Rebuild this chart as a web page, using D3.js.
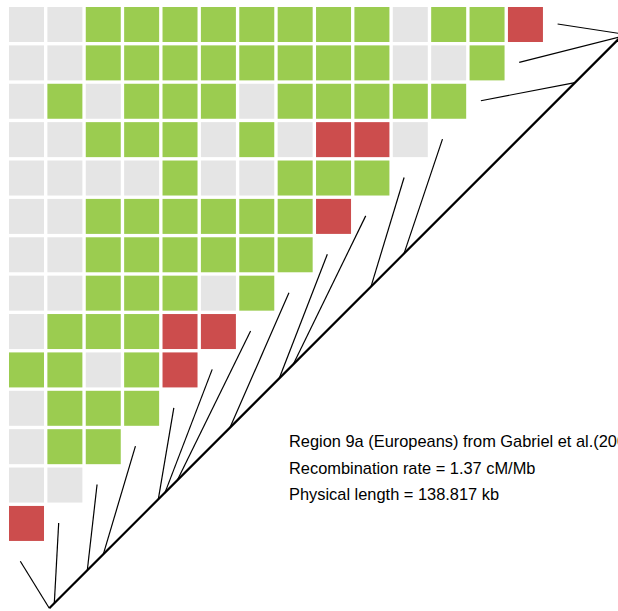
<!DOCTYPE html>
<html>
<head>
<meta charset="utf-8">
<script src="https://cdn.jsdelivr.net/npm/d3@7"></script>
<style>
  html, body { margin: 0; padding: 0; background: #fff; overflow: hidden; }
  svg { display: block; }
</style>
</head>
<body>
<script>
// ---- Data ----
// LD matrix rows: 0 = low (grey), 1 = moderate (green), 2 = high (red)
const ldRows = [
  [0,0,1,1,1,1,1,1,1,1,0,1,1,2],
  [0,0,1,1,1,1,1,1,1,1,0,0,1],
  [0,1,0,1,1,1,0,1,1,1,1,1],
  [0,0,1,1,1,0,1,0,2,2,0],
  [0,0,0,0,1,0,0,1,1,1],
  [0,0,1,1,1,1,1,1,2],
  [0,0,1,1,1,1,1,1],
  [0,0,1,1,1,0,1],
  [0,1,1,1,2,2],
  [1,1,0,1,2],
  [0,1,1,1],
  [0,1,1],
  [0,0],
  [2]
];
const ldLevels = [0, 1, 2];
const ldColors = ["#e5e5e5", "#9bcc50", "#cc4d4d"];

// physical positions of the 15 markers (kb)
const markerPositions = [0, 1.21, 9.19, 13.05, 26.35, 27.97, 30.95, 43.69, 55.6, 58.99, 77.77, 85.75, 127.09, 138.21, 138.817];
const physicalLength = 138.817;

const infoLines = [
  "Region 9a (Europeans) from Gabriel et al.(2002)",
  "Recombination rate = 1.37 cM/Mb",
  "Physical length = 138.817 kb"
];

// ---- Drawing ----
const W = 618, H = 611;
const svg = d3.select("body").append("svg").attr("width", W).attr("height", H);

const n = ldRows.length; // 14
const idx = d3.range(n);
const xBand = d3.scaleBand().domain(idx).range([9, 542.94]).paddingInner(0.088).paddingOuter(0);
const yBand = d3.scaleBand().domain(idx).range([7, 540.94]).paddingInner(0.088).paddingOuter(0);
const color = d3.scaleOrdinal().domain(ldLevels).range(ldColors);

const cells = [];
ldRows.forEach((row, r) => row.forEach((v, c) => cells.push({ r, c, v })));

svg.append("g").selectAll("rect").data(cells).join("rect")
  .attr("x", d => xBand(d.c))
  .attr("y", d => yBand(d.r))
  .attr("width", xBand.bandwidth())
  .attr("height", yBand.bandwidth())
  .attr("fill", d => color(d.v));

// marker tips along the matrix diagonal
const tipX = d3.scaleLinear().domain([0, n]).range([20.3, 20.3 + n * 38.38]);
const tipSum = 581.6; // tips lie on x + y = const
// physical axis along the 45° baseline
const physX = d3.scaleLinear().domain([0, physicalLength]).range([49.3, 623.5]);
const baseSum = 657.6;

const g = svg.append("g");
g.selectAll("line.conn").data(markerPositions).join("line")
  .attr("class", "conn")
  .attr("x1", (p, i) => tipX(i))
  .attr("y1", (p, i) => tipSum - tipX(i))
  .attr("x2", p => physX(p))
  .attr("y2", p => baseSum - physX(p))
  .attr("stroke", "#000")
  .attr("stroke-width", 1.2);

g.append("line")
  .attr("x1", physX(0)).attr("y1", baseSum - physX(0))
  .attr("x2", physX(physicalLength)).attr("y2", baseSum - physX(physicalLength))
  .attr("stroke", "#000")
  .attr("stroke-width", 2.2);

svg.append("g").selectAll("text").data(infoLines).join("text")
  .attr("x", 289)
  .attr("y", (d, i) => 447 + i * 26.5)
  .attr("font-family", "'Liberation Sans', Arial, Helvetica, sans-serif")
  .attr("font-size", "16.4px")
  .attr("fill", "#000")
  .text(d => d);
</script>
</body>
</html>
